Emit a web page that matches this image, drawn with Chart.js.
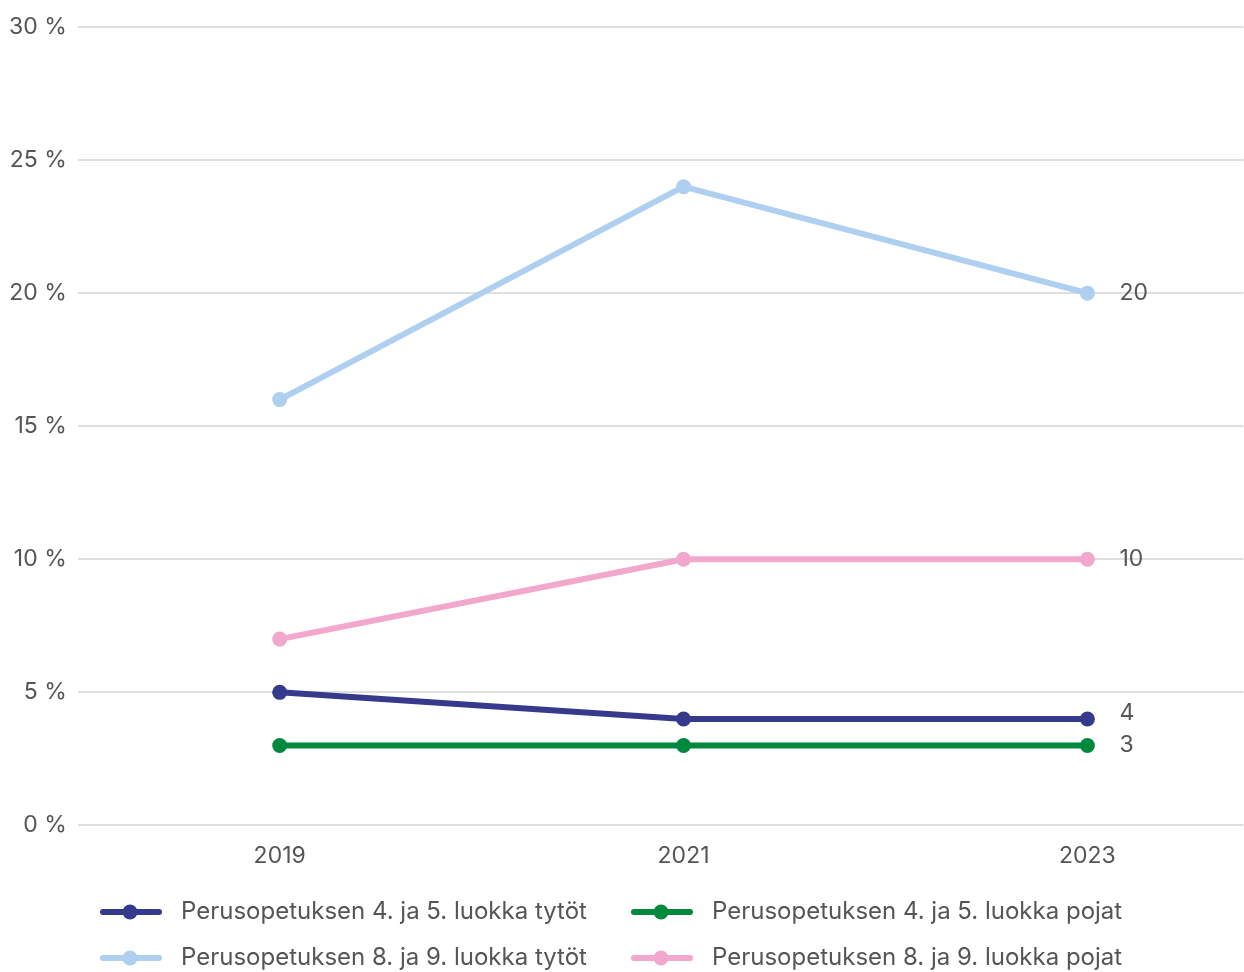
<!DOCTYPE html>
<html><head><meta charset="utf-8">
<script src="https://cdn.jsdelivr.net/npm/chart.js@4/dist/chart.umd.min.js"></script>
<style>html,body{margin:0;padding:0;background:#fff;overflow:hidden;width:1244px;height:972px}#wrap{width:1251px;height:972px;position:relative}canvas{display:block}</style>
</head><body><div id="wrap"><canvas id="c"></canvas></div>
<script>
const years = [2019, 2021, 2023];
const seriesNames = [
  "Perusopetuksen 4. ja 5. luokka tytöt",
  "Perusopetuksen 4. ja 5. luokka pojat",
  "Perusopetuksen 8. ja 9. luokka tytöt",
  "Perusopetuksen 8. ja 9. luokka pojat"
];
const girls45 = [5, 4, 4];
const boys45 = [3, 3, 3];
const girls89 = [16, 24, 20];
const boys89 = [7, 10, 10];
const yTicks = [0, 5, 10, 15, 20, 25, 30];
const colors = ["#363a8c", "#00893d", "#aecff0", "#f2a8cc"];
const endLabelDy = [-6, 0, 0, 0];
const FONT = "Inter";
const TXT = "#555555";

const allSeries = [girls45, boys45, girls89, boys89];
const datasets = allSeries.map((vals, i) => ({
  label: seriesNames[i],
  data: vals.map((v, j) => ({x: years[j], y: v})),
  borderColor: colors[i],
  backgroundColor: colors[i],
  borderWidth: 6,
  pointRadius: 7.5,
  pointHoverRadius: 7.5,
  pointBorderWidth: 0,
  pointStyle: 'circle',
  tension: 0
}));

const endLabels = {
  id: 'endLabels',
  afterDatasetsDraw(chart) {
    const ctx = chart.ctx;
    ctx.save();
    ctx.font = "23px " + FONT;
    ctx.fillStyle = TXT;
    ctx.textBaseline = 'middle';
    ctx.textAlign = 'left';
    chart.data.datasets.forEach((ds, i) => {
      const meta = chart.getDatasetMeta(i);
      const last = meta.data[meta.data.length - 1];
      const v = allSeries[i][allSeries[i].length - 1];
      ctx.fillText(String(v), last.x + 32, last.y + endLabelDy[i]);
    });
    ctx.restore();
  }
};

// legend layout (two columns, two rows)
const legendCols = [100, 631];
const legendRows = [912, 958];
const customLegend = {
  id: 'customLegend',
  afterDraw(chart) {
    const ctx = chart.ctx;
    ctx.save();
    ctx.font = "24px " + FONT;
    ctx.textBaseline = 'middle';
    ctx.textAlign = 'left';
    chart.data.datasets.forEach((ds, i) => {
      const x = legendCols[i % 2];
      const y = legendRows[Math.floor(i / 2)];
      ctx.strokeStyle = ds.borderColor;
      ctx.lineWidth = 6;
      ctx.lineCap = 'round';
      ctx.beginPath(); ctx.moveTo(x + 3, y); ctx.lineTo(x + 59, y); ctx.stroke();
      ctx.fillStyle = ds.borderColor;
      ctx.beginPath(); ctx.arc(x + 30, y, 7.5, 0, Math.PI * 2); ctx.fill();
      ctx.fillStyle = TXT;
      ctx.fillText(ds.label, x + 81, y);
    });
    ctx.restore();
  }
};

new Chart(document.getElementById('c'), {
  type: 'line',
  data: { datasets },
  options: {
    responsive: true,
    maintainAspectRatio: false,
    animation: false,
    layout: { padding: { top: 27, right: 0, left: -2, bottom: 85 } },
    plugins: {
      tooltip: { enabled: false },
      legend: { display: false }
    },
    scales: {
      x: {
        type: 'linear',
        min: 2018,
        max: 2023.773,
        afterBuildTicks(axis) { axis.ticks = years.map(v => ({value: v})); },
        grid: { display: false, drawTicks: false },
        border: { display: false },
        ticks: { color: TXT, font: { family: FONT, size: 23 }, padding: 17, callback: v => String(v) }
      },
      y: {
        min: 0, max: 30,
        afterBuildTicks(axis) { axis.ticks = yTicks.map(v => ({value: v})); },
        grid: { color: '#dfdfdf', lineWidth: 2, drawTicks: false },
        border: { display: false },
        ticks: { color: TXT, font: { family: FONT, size: 23 }, padding: 11, callback: v => v + ' %' }
      }
    }
  },
  plugins: [endLabels, customLegend]
});
</script></body></html>
